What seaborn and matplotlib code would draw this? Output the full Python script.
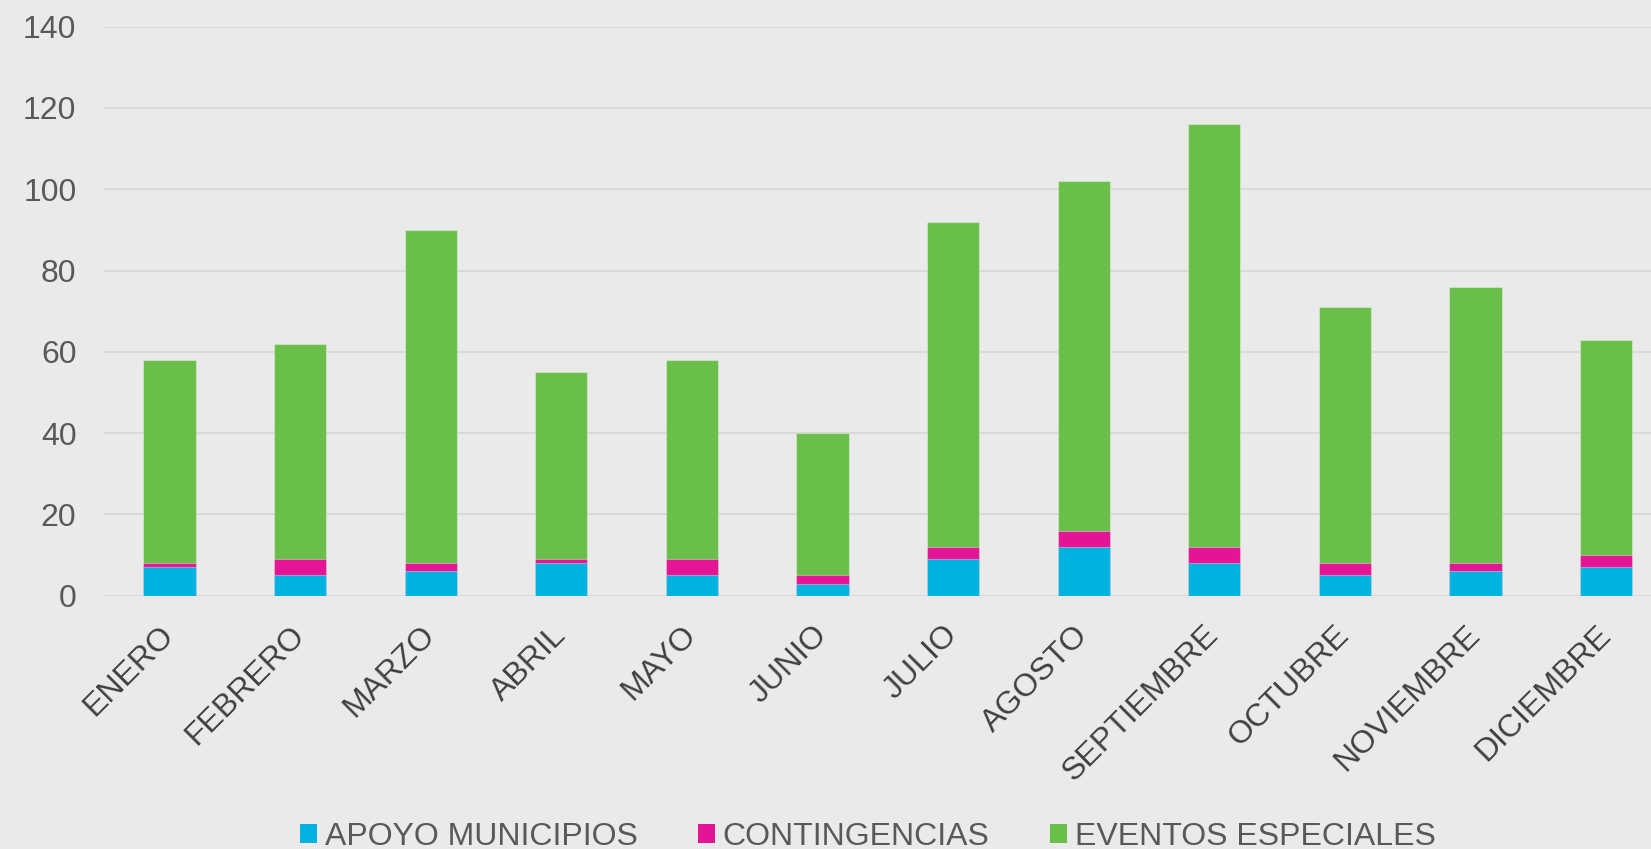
import matplotlib
matplotlib.use("Agg")
import matplotlib.pyplot as plt
import matplotlib.patches as mpatches
import seaborn as sns
import numpy as np

MONTHS = ["ENERO", "FEBRERO", "MARZO", "ABRIL", "MAYO", "JUNIO", "JULIO",
          "AGOSTO", "SEPTIEMBRE", "OCTUBRE", "NOVIEMBRE", "DICIEMBRE"]
APOYO = [7, 5, 6, 8, 5, 3, 9, 12, 8, 5, 6, 7]
CONTINGENCIAS = [1, 4, 2, 1, 4, 2, 3, 4, 4, 3, 2, 3]
EVENTOS = [50, 53, 82, 46, 49, 35, 80, 86, 104, 63, 68, 53]
SERIES = ["APOYO MUNICIPIOS", "CONTINGENCIAS", "EVENTOS ESPECIALES"]
YTICKS = [0, 20, 40, 60, 80, 100, 120, 140]

BLUE = "#00B2E0"
PINK = "#E31595"
GREEN = "#6ABF4B"
BG = "#EAEAEA"
GRID = "#D9D9D9"

sns.set_style("white")
plt.rcParams["font.family"] = ["Liberation Sans", "DejaVu Sans"]

W, H = 1651, 849
fig = plt.figure(figsize=(W / 100, H / 100), dpi=100, facecolor=BG)
step = 130.6
left_px, top_px, bot_px = 169.5 - step / 2, 26.7, 595.7
ax = fig.add_axes([left_px / W, 1 - bot_px / H, 1 - left_px / W, (bot_px - top_px) / H])
ax.set_facecolor(BG)

apoyo = np.array(APOYO)
cont = np.array(CONTINGENCIAS)
ev = np.array(EVENTOS)
layers = [
    (apoyo + cont + ev, GREEN),
    (apoyo + cont, PINK),
    (apoyo, BLUE),
]
for vals, col in layers:
    sns.barplot(x=MONTHS, y=vals, order=MONTHS, color=col, saturation=1,
                width=0.4, errorbar=None, ax=ax,
                edgecolor=(1, 1, 1, 0.35), linewidth=0.8, zorder=3)

ax.set_ylim(0, 140)
ax.set_yticks(YTICKS)
ax.set_xlim(-0.5, (W - 169.5) / step)
ax.grid(axis="y", color=GRID, linewidth=1.5, zorder=0)
ax.grid(axis="x", visible=False)
ax.set_axisbelow(True)
for s in ax.spines.values():
    s.set_visible(False)
ax.set_xlabel("")
ax.set_ylabel("")
ax.tick_params(axis="y", length=0, pad=20, labelsize=23, labelcolor="#595959")
ax.tick_params(axis="x", length=0, pad=25, labelsize=23, labelcolor="#404040")
ax.set_xticks(range(len(MONTHS)))
ax.set_xticklabels(MONTHS, rotation=45, ha="right", va="center",
                   rotation_mode="anchor")

handles = [mpatches.Patch(facecolor=c, edgecolor="none") for c in (BLUE, PINK, GREEN)]
fig.legend(handles, SERIES, loc="center", bbox_to_anchor=(868 / W, 0.014),
           ncol=3, frameon=False, fontsize=23, handlelength=0.52,
           handleheight=0.52, handletextpad=0.25, columnspacing=1.9,
           labelcolor="#595959", borderpad=0, borderaxespad=0)

fig.savefig("out.png", dpi=100, facecolor=BG)
